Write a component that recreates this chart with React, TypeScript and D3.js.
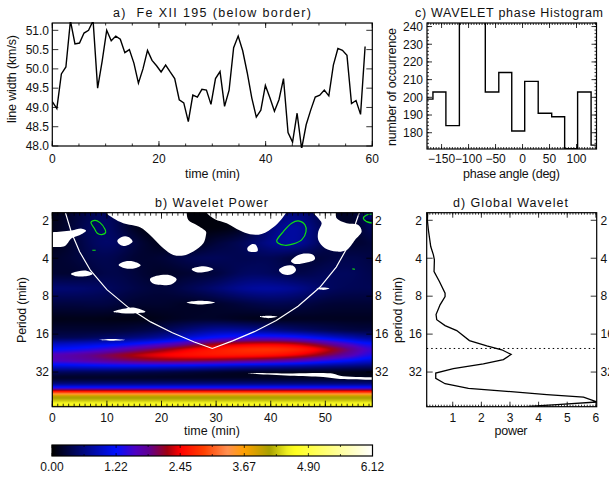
import React, { useMemo } from "react";
import * as d3 from "d3";

// ---------- data ----------
const lineWidthValues = [49.15,48.97,49.87,50.05,51.25,50.65,50.67,50.93,51.0,51.25,49.5,50.2,51.0,50.73,50.85,50.77,50.42,50.5,50.15,49.63,50.0,50.48,50.22,50.08,49.92,50.1,49.92,49.75,49.2,49.12,48.63,49.32,49.27,49.47,49.45,49.08,49.75,49.93,49.03,49.45,50.55,50.85,50.47,49.9,49.25,48.75,48.93,49.57,49.25,48.9,49.2,49.75,48.35,48.1,48.85,47.93,48.55,48.93,49.27,49.32,49.45,49.3,50.1,50.53,50.48,50.35,49.1,49.18,48.82,50.58];
const sampleStepMin = 0.85;

const phaseEdges = [-178,-166,-142,-117,-93,-69,-44,-20,4,29,54,78,102,127,137];
const phaseCounts = [199,203,184,290,290,203,214,181,209,191,189,171,203,173];

const globalPeriods = [1.74,2,2.39,3.23,3.76,4.12,5.1,6.12,7.57,8.05,9.37,11.2,12.3,13.7,15,18,19.8,21.3,23.2,25.5,27.6,30.1,32.6,35.9,39.6,43.1,45.5,48.4,50.5,55.3,58.1,59.9];
const globalPower = [0.126,0.114,0.149,0.231,0.324,0.359,0.347,0.534,0.732,0.732,0.557,0.417,0.441,0.732,1.14,1.583,2.19,2.713,3.04,2.77,2.07,1.02,0.406,0.406,0.732,1.548,2.888,4.287,5.569,6.035,4.636,3.646];
const significantPeriod = 20.8;

const coiTimes = [2.4,3.5,5,7,10,14,18,22,26,29.3,33,37,41,45,49,52,54,56,56.2];
const coiPeriods = [1.74,2.5,3.55,5,7.1,9.9,12.8,15.6,18.5,20.8,18.1,15.3,12.5,9.6,6.8,4.7,3.3,1.85,1.74];

const gridTimes = [0,5,10,15,20,25,30,35,40,45,50,55,58.6];
const gridLog2Periods = [0.8,1.2,1.6,2.0,2.4,2.8,3.2,3.6,3.9,4.1,4.25,4.4,4.55,4.7,4.85,5.0,5.15,5.3,5.38,5.43,5.5,5.56,5.62,5.7,5.78,5.85,5.89,5.92];
const powerGrid = [
  [.08,.3,.55,.1,.05,.05,.05,.08,.4,.7,.25,.1,.7],
  [.1,.35,.6,.1,.05,.05,.05,.1,.6,.9,.3,.1,.5],
  [.1,.3,.6,.3,.1,.05,.3,.4,.7,.85,.3,.2,.3],
  [.2,.3,.45,.2,.25,.4,.45,.35,.45,.2,.3,.4,.3],
  [.25,.2,.4,.3,.15,.25,.25,.5,.45,.3,.45,.45,.35],
  [.55,.55,.45,.35,.25,.4,.55,.75,.8,.7,.45,.4,.4],
  [.3,.3,.35,.2,.25,.15,.2,.3,.4,.35,.25,.25,.25],
  [.1,.12,.1,.08,.12,.2,.2,.12,.1,.15,.15,.15,.15],
  [.25,.25,.25,.3,.4,.6,.8,.75,.65,.5,.4,.3,.3],
  [.4,.4,.5,.6,.75,1.05,1.3,1.45,1.5,1.4,1.1,.85,.7],
  [.9,.95,1.05,1.2,1.45,1.8,2.2,2.35,2.4,2.3,1.9,1.4,1.2],
  [1.2,1.3,1.5,1.8,2.1,2.45,2.65,2.8,2.85,2.75,2.4,1.85,1.45],
  [1.65,1.8,2.05,2.3,2.5,2.6,2.65,2.65,2.6,2.45,2.1,1.65,1.3],
  [1.6,1.7,1.85,2.0,2.1,2.1,2.05,1.95,1.85,1.7,1.4,1.15,1.0],
  [1.0,1.05,1.1,1.1,1.05,1.0,.9,.8,.75,.7,.6,.55,.5],
  [.45,.4,.4,.35,.3,.25,.2,.15,.12,.1,.1,.1,.1],
  [.15,.15,.15,.15,.15,.15,.15,.15,.15,.15,.15,.15,.15],
  [.55,.55,.55,.55,.55,.55,.55,.55,.55,.55,.55,.55,.55],
  [1.1,1.1,1.1,1.1,1.1,1.1,1.1,1.1,1.1,1.1,1.1,1.1,1.1],
  [1.5,1.5,1.5,1.5,1.5,1.5,1.5,1.5,1.5,1.5,1.5,1.5,1.5],
  [2.5,2.5,2.5,2.5,2.5,2.5,2.5,2.5,2.5,2.5,2.5,2.5,2.5],
  [3.2,3.2,3.2,3.2,3.2,3.2,3.2,3.2,3.2,3.2,3.2,3.2,3.2],
  [4.0,4.0,4.0,4.0,4.0,4.0,4.0,4.0,4.0,4.0,4.0,4.0,4.0],
  [4.2,4.2,4.2,4.2,4.2,4.2,4.2,4.2,4.2,4.2,4.2,4.2,4.2],
  [4.4,4.4,4.4,4.4,4.4,4.4,4.4,4.4,4.4,4.4,4.4,4.4,4.4],
  [4.7,4.7,4.7,4.7,4.7,4.7,4.7,4.7,4.7,4.7,4.7,4.7,4.7],
  [4.6,4.6,4.6,4.6,4.6,4.6,4.6,4.6,4.6,4.6,4.6,4.6,4.6],
  [3.5,3.5,3.5,3.5,3.5,3.5,3.5,3.5,3.5,3.5,3.5,3.5,3.5],
];

const colorStops = [0,1.22,1.6,1.85,2.2,2.45,2.9,3.35,3.67,4.15,4.5,4.65,5.3,6.12];
const colorValues = ["#000000","#0010ff","#5000c0","#600090","#a00010","#ff0000","#ff4000","#ff9050","#ffa000","#a8a000","#f0f020","#ffff20","#ffff80","#ffffff"];
const colorbarLabels = ["0.00","1.22","2.45","3.67","4.90","6.12"];

// white holes: [time, log2 period]
const whiteBlobs: number[][][] = [
  [[-1,1.316],[0,1.316],[1.71,1.298],[3.54,1.272],[5.37,1.22],[6.17,1.272],[5.07,1.386],[3.54,1.474],[2.32,1.676],[.49,1.702],[-1,1.693]],
  [[9.83,.7],[9.83,.798],[11.17,.948],[13,1.079],[16.06,1.184],[17.89,1.386],[20.33,1.737],[22.16,1.912],[23.99,1.93],[25.82,1.825],[27.66,1.605],[28.14,1.386],[28.14,1.298],[26.43,1.123],[24.91,.991],[24.6,.798],[24.6,.7]],
  [[28.27,.7],[28.27,.798],[29.79,.974],[31.93,1.079],[34.37,1.272],[36.2,1.369],[38.34,1.36],[40.78,1.149],[42.31,.904],[42.8,.798],[42.8,.7]],
  [[47.8,.7],[47.8,.798],[48.71,.948],[49.32,1.079],[48.71,1.298],[48.71,1.518],[49.94,1.737],[52.08,1.825],[53.91,1.781],[55.43,1.518],[56.65,1.298],[56.04,1.123],[53.91,1.079],[52.08,.948],[51.95,.798],[51.95,.7]],
  [[11.9,1.544],[12.7,1.439],[13.92,1.439],[14.71,1.562],[13.92,1.649],[12.7,1.667]],
  [[12.15,2.176],[13.31,2.088],[14.84,2.088],[16.18,2.184],[15.14,2.263],[13.31,2.263]],
  [[3.42,2.413],[4.76,2.342],[6.41,2.334],[7.39,2.413],[5.98,2.474],[4.46,2.474]],
  [[17.89,2.553],[19.11,2.465],[21.55,2.448],[22.77,2.553],[21.86,2.684],[19.11,2.693],[18.19,2.64]],
  [[11.17,3.413],[13,3.334],[14.84,3.298],[17.09,3.413],[14.84,3.456],[12.7,3.448]],
  [[8.61,4.158],[10.87,4.132],[13.31,4.158],[10.87,4.176]],
  [[25.52,2.29],[27.05,2.22],[28.57,2.228],[29.49,2.29],[27.66,2.369],[26.43,2.369]],
  [[24.6,3.167],[27.05,3.123],[29.79,3.167],[27.05,3.22]],
  [[35.71,1.737],[36.51,1.632],[37.3,1.649],[37.6,1.807],[35.9,1.816]],
  [[43.71,2.079],[44.14,2],[45.66,1.886],[47.8,1.912],[48.1,2.018],[46.58,2.114],[44.44,2.149]],
  [[41.51,2.307],[42.61,2.202],[44.14,2.202],[44.63,2.307],[43.83,2.421],[42.31,2.421]],
  [[38.03,3.544],[39.56,3.518],[41.21,3.544],[39.56,3.579]],
  [[48.41,2.798],[49.63,2.772],[50.73,2.798],[49.63,2.834]],
  [[35.59,5.026],[43.53,5.035],[51.47,5.044],[52.69,5.096],[58.6,5.14],[60,5.14],[60,5.202],[58.6,5.202],[52.69,5.184],[49.63,5.132],[43.53,5.096],[37.4,5.053]],
];
const greenClosed: number[][][] = [
  [[7.08,1.053],[7.81,1],[8.73,1.062],[9.65,1.237],[9.77,1.325],[9.04,1.377],[8.24,1.342],[7.69,1.211]],
  [[41.09,1.544],[42.31,1.298],[43.83,1.079],[45.05,1.018],[46.27,1.123],[46.46,1.298],[45.66,1.518],[44.14,1.623],[42.61,1.658],[41.39,1.605]],
];
const greenOpen: number[][][] = [
  [[7.33,1.79],[7.94,1.79]],
  [[54.95,2.281],[55.43,2.29]],
  [[59,.834],[57.57,.86],[56.96,.948],[57.57,1.035],[59,1.079]],
];

// ---------- layout ----------
const FONT = "'Liberation Sans', Arial, sans-serif";
const A = { l: 52.3, r: 372.3, t: 23, b: 146 };
const C = { l: 427, r: 596.5, t: 23, b: 149 };
const B = { l: 52.3, r: 372.3, t: 212.7, b: 406.7 };
const D = { l: 426.7, r: 596.7, t: 212.7, b: 406.7 };
const BAR = { l: 52, r: 372.5, t: 445, b: 456 };

const xA = d3.scaleLinear().domain([0, 60]).range([A.l, A.r]);
const yA = d3.scaleLinear().domain([48, 51.19]).range([A.b, A.t]);
const xC = d3.scaleLinear().domain([-177, 137]).range([C.l, C.r]);
const yC = d3.scaleLinear().domain([170.8, 242]).range([C.b, C.t]);
const xB = d3.scaleLinear().domain([0, 58.6]).range([B.l, B.r]);
const yB = d3.scaleLog().base(2).domain([Math.pow(2, 0.8), Math.pow(2, 5.913)]).range([B.t, B.b]);
const xD = d3.scaleLinear().domain([0.09, 6.03]).range([D.l, D.r]);
const xBar = d3.scaleLinear().domain([0, 6.12]).range([BAR.l, BAR.r]);
const colorOf = d3.scaleLinear<string>().domain(colorStops).range(colorValues).clamp(true);

function heatmapUrl(): string {
  const W = Math.round(B.r - B.l), H = Math.round(B.b - B.t);
  const cv = document.createElement("canvas");
  cv.width = W; cv.height = H;
  const ctx = cv.getContext("2d")!;
  const img = ctx.createImageData(W, H);
  const rowFns = powerGrid.map((r) => d3.interpolateBasis([r[0], ...r, r[r.length - 1]]));
  const n = gridTimes.length;
  const tMax = gridTimes[n - 1];
  const idxOf = d3.scaleLinear().domain(gridTimes).range(gridTimes.map((_, i) => i));
  const field = new Float64Array(W * H);
  const octOf = d3.scaleLinear().domain([0, H]).range([0.8, 5.913]);
  for (let i = 0; i < W; i++) {
    const t = ((i + 0.5) / W) * tMax;
    const vals = rowFns.map((f) => f((idxOf(t) + 1) / (n + 1)));
    const prof = d3.scaleLinear().domain(gridLog2Periods).range(vals).clamp(true);
    for (let j = 0; j < H; j++) field[j * W + i] = prof(octOf(j + 0.5));
  }
  for (let pass = 0; pass < 2; pass++) {
    for (let i = 0; i < W; i++) {
      let prev = field[i];
      for (let j = 1; j < H - 1; j++) {
        const cur = field[j * W + i];
        const rad = j < H * 0.88 ? 0.33 : 0.15;
        field[j * W + i] = cur * (1 - 2 * rad) + rad * prev + rad * field[(j + 1) * W + i];
        prev = cur;
      }
    }
  }
  for (let k = 0; k < W * H; k++) {
    const c = d3.rgb(colorOf(field[k]));
    img.data[k * 4] = c.r; img.data[k * 4 + 1] = c.g; img.data[k * 4 + 2] = c.b; img.data[k * 4 + 3] = 255;
  }
  ctx.putImageData(img, 0, 0);
  return cv.toDataURL();
}

function colorbarUrl(): string {
  const W = 320;
  const cv = document.createElement("canvas");
  cv.width = W; cv.height = 1;
  const ctx = cv.getContext("2d")!;
  for (let i = 0; i < W; i++) {
    ctx.fillStyle = colorOf(((i + 0.5) / W) * 6.12);
    ctx.fillRect(i, 0, 1, 1);
  }
  return cv.toDataURL();
}

const Txt = (p: any) => {
  const { x, y, anchor = "middle", rotate, len, size = 12.5, children } = p;
  return (
    <text x={x} y={y} textAnchor={anchor} fontFamily={FONT} fontSize={size} fill="#111"
      textLength={len} lengthAdjust={len ? "spacing" : undefined} style={{ whiteSpace: "pre" }}
      transform={rotate ? `rotate(${rotate} ${x} ${y})` : undefined}>{children}</text>
  );
};
const Tick = (p: any) => <Txt size={12} {...p} />;

function TicksX({ s, box, major, minor, maj = 6, min = 3, color = "#000" }: any) {
  const segs: any[] = [];
  const add = (v: number, len: number) => {
    const x = s(v);
    if (x < box.l - 0.5 || x > box.r + 0.5) return;
    segs.push(<path key={`${v}-${len}`} d={`M${x},${box.b}V${box.b - len}M${x},${box.t}V${box.t + len}`} stroke={color} strokeWidth={0.8} />);
  };
  minor.forEach((v: number) => add(v, min));
  major.forEach((v: number) => add(v, maj));
  return <g>{segs}</g>;
}
function TicksY({ s, box, major, minor = [], maj = 6, min = 3, color = "#000" }: any) {
  const segs: any[] = [];
  const add = (v: number, len: number) => {
    const y = s(v);
    if (y < box.t - 0.5 || y > box.b + 0.5) return;
    segs.push(<path key={`${v}-${len}`} d={`M${box.l},${y}H${box.l + len}M${box.r},${y}H${box.r - len}`} stroke={color} strokeWidth={0.8} />);
  };
  minor.forEach((v: number) => add(v, min));
  major.forEach((v: number) => add(v, maj));
  return <g>{segs}</g>;
}
const Frame = ({ box, stroke = "#000" }: any) => (
  <rect x={box.l} y={box.t} width={box.r - box.l} height={box.b - box.t} fill="none" stroke={stroke} strokeWidth={1.2} />
);

export default function App() {
  const heat = useMemo(heatmapUrl, []);
  const bar = useMemo(colorbarUrl, []);

  const lineA = d3.line<number>().x((_, i) => xA(i * sampleStepMin)).y((d) => yA(d))(lineWidthValues)!;
  const histPts = phaseEdges.map((e, i) => [e, phaseCounts[Math.min(i, phaseCounts.length - 1)]] as [number, number]);
  const lineC = d3.line<[number, number]>().x((d) => xC(d[0])).y((d) => yC(d[1])).curve(d3.curveStepAfter)(histPts)!;
  const lineD = d3.line<number>().x((d) => xD(d)).y((_, i) => yB(globalPeriods[i]))(globalPower)!;
  const coi = d3.line<number>().x((d) => xB(d)).y((_, i) => yB(coiPeriods[i]))(coiTimes)!;
  const blobLine = (pts: number[][], closed: boolean) =>
    d3.line<number[]>().x((d) => xB(d[0])).y((d) => yB(Math.pow(2, d[1])))
      .curve(closed ? d3.curveCatmullRomClosed.alpha(0.5) : d3.curveCatmullRom.alpha(0.5))(pts)!;

  const periodTicks = [2, 4, 8, 16, 32];
  const rangeBy = (a: number, b: number, st: number) => d3.range(Math.round((b - a) / st) + 1).map((i) => a + i * st);

  return (
    <svg width={609} height={477} viewBox="0 0 609 477" style={{ position: "absolute", left: 0, top: 0, display: "block", background: "#fff" }}>
      <defs>
        <clipPath id="ca"><rect x={A.l} y={A.t - 1} width={A.r - A.l} height={A.b - A.t + 3} /></clipPath>
        <clipPath id="cc"><rect x={C.l} y={C.t} width={C.r - C.l} height={C.b - C.t} /></clipPath>
        <clipPath id="cb"><rect x={B.l} y={B.t} width={B.r - B.l} height={B.b - B.t} /></clipPath>
        <clipPath id="cd"><rect x={D.l} y={D.t} width={D.r - D.l} height={D.b - D.t} /></clipPath>
      </defs>

      {/* panel a */}
      <Txt x={212} y={17} len={198}>{"a)  Fe XII 195 (below border)"}</Txt>
      <path d={lineA} fill="none" stroke="#000" strokeWidth={1.4} clipPath="url(#ca)" />
      <Frame box={A} />
      <TicksX s={xA} box={A} major={[0, 20, 40, 60]} minor={rangeBy(0, 60, 5)} maj={5} min={2.5} />
      <TicksY s={yA} box={A} major={rangeBy(48, 51, 0.5)} maj={6} />
      {rangeBy(48, 51, 0.5).map((v) => (
        <Tick key={v} x={49} y={yA(v) + 4.3} anchor="end">{v.toFixed(1)}</Tick>
      ))}
      {[0, 20, 40, 60].map((v) => <Tick key={v} x={xA(v)} y={163}>{v}</Tick>)}
      <Txt x={212.5} y={177.5} len={55}>time (min)</Txt>
      <Txt x={16} y={79} rotate={-90} len={88}>line width (km/s)</Txt>

      {/* panel c */}
      <Txt x={509} y={17} len={188}>c) WAVELET phase Histogram</Txt>
      <path d={lineC} fill="none" stroke="#000" strokeWidth={1.4} clipPath="url(#cc)" />
      <Frame box={C} />
      <TicksX s={xC} box={C} major={[-150, -100, -50, 0, 50, 100]} minor={rangeBy(-175, 135, 5)} maj={5} min={2} />
      <TicksY s={yC} box={C} major={rangeBy(180, 240, 10)} minor={rangeBy(172, 242, 2)} maj={5} min={2} />
      {rangeBy(180, 240, 10).map((v) => <Tick key={v} x={423} y={yC(v) + 4.3} anchor="end">{v}</Tick>)}
      {[-150, -100, -50, 0, 50, 100].map((v) => (
        <Tick key={v} x={xC(v)} y={163}>{v < 0 ? `\u2212${-v}` : v}</Tick>
      ))}
      <Txt x={511.5} y={177.5} len={97}>phase angle (deg)</Txt>
      <Txt x={396} y={87} rotate={-90} len={118}>number of occurrence</Txt>

      {/* panel b */}
      <Txt x={211.5} y={207} len={113}>b) Wavelet Power</Txt>
      <image href={heat} x={B.l} y={B.t} width={B.r - B.l} height={B.b - B.t} preserveAspectRatio="none" />
      <g clipPath="url(#cb)">
        {whiteBlobs.map((b, i) => <path key={i} d={blobLine(b, true)} fill="#fff" />)}
        {greenClosed.map((b, i) => <path key={i} d={blobLine(b, true)} fill="none" stroke="#10e010" strokeWidth={1.2} />)}
        {greenOpen.map((b, i) => <path key={i} d={blobLine(b, false)} fill="none" stroke="#10e010" strokeWidth={1.2} />)}
        <path d={coi} fill="none" stroke="#fff" strokeWidth={1.2} />
      </g>
      <Frame box={B} />
      <TicksX s={xB} box={B} major={rangeBy(0, 50, 10)} minor={rangeBy(0, 58, 1)} maj={6} min={3} />
      <TicksY s={yB} box={B} major={periodTicks} maj={6} />
      {rangeBy(0, 50, 10).map((v) => <Tick key={v} x={xB(v)} y={422}>{v}</Tick>)}
      {periodTicks.map((v) => <Tick key={v} x={49} y={yB(v) + 4.3} anchor="end">{v}</Tick>)}
      {periodTicks.map((v) => <Tick key={v} x={375} y={yB(v) + 4.3} anchor="start">{v}</Tick>)}
      <Txt x={212} y={434.5} len={56}>time (min)</Txt>
      <Txt x={26} y={310} rotate={-90} len={66}>Period (min)</Txt>

      {/* panel d */}
      <Txt x={510.5} y={207} len={115}>d) Global Wavelet</Txt>
      <path d={lineD} fill="none" stroke="#000" strokeWidth={1.3} clipPath="url(#cd)" />
      <line x1={D.l} x2={D.r} y1={yB(significantPeriod)} y2={yB(significantPeriod)} stroke="#000" strokeWidth={1} strokeDasharray="1.5 3" />
      <Frame box={D} />
      <TicksX s={xD} box={D} major={[1, 2, 3, 4, 5, 6]} minor={rangeBy(0.1, 6, 0.1)} maj={5} min={2} />
      <TicksY s={yB} box={D} major={periodTicks} maj={6} />
      {[1, 2, 3, 4, 5, 6].map((v) => <Tick key={v} x={xD(v)} y={421.5}>{v}</Tick>)}
      {periodTicks.map((v) => <Tick key={v} x={422} y={yB(v) + 4.3} anchor="end">{v}</Tick>)}
      {periodTicks.map((v) => <Tick key={v} x={600.5} y={yB(v) + 4.3} anchor="start">{v}</Tick>)}
      <Txt x={511} y={434.5} len={33}>power</Txt>
      <Txt x={401.5} y={310} rotate={-90} len={66}>period (min)</Txt>

      {/* colorbar */}
      <image href={bar} x={BAR.l} y={BAR.t} width={BAR.r - BAR.l} height={BAR.b - BAR.t} preserveAspectRatio="none" />
      <Frame box={BAR} />
      {rangeBy(0, 6.12, 0.612).map((v, i) => (
        <path key={i} d={`M${xBar(v)},${BAR.t}v${i % 2 ? 2 : 3}M${xBar(v)},${BAR.b}v-${i % 2 ? 2 : 3}`} stroke="#000" strokeWidth={0.7} />
      ))}
      {colorbarLabels.map((l) => <Tick key={l} x={xBar(+l)} y={471}>{l}</Tick>)}
    </svg>
  );
}
